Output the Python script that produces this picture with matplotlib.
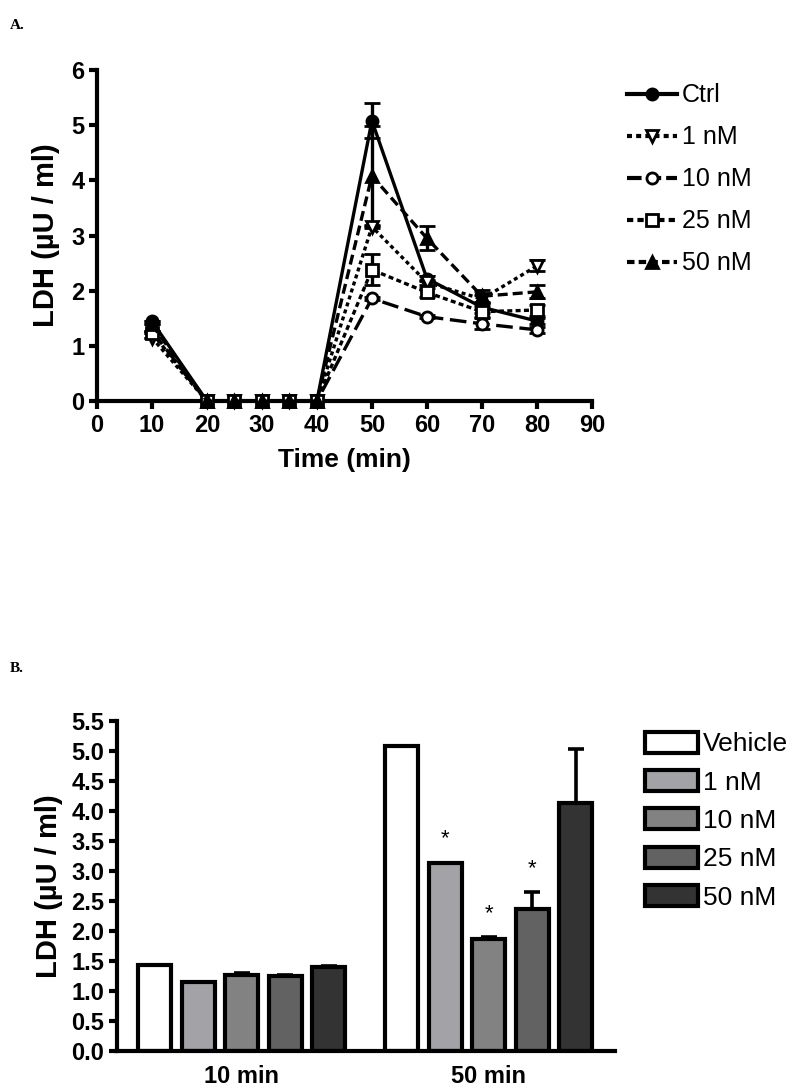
import numpy as np
import matplotlib
matplotlib.use("Agg")
import matplotlib.pyplot as plt
from matplotlib.lines import Line2D

plt.rcParams['font.family'] = ['Liberation Sans', 'DejaVu Sans']

# ---------------- Data ----------------
time_min = [10, 20, 25, 30, 35, 40, 50, 60, 70, 80]
series_names = ["Ctrl", "1 nM", "10 nM", "25 nM", "50 nM"]
ctrl_vals = [1.45, 0, 0, 0, 0, 0, 5.08, 2.22, 1.70, 1.45]
nm1_vals = [1.15, 0, 0, 0, 0, 0, 3.16, 2.15, 1.85, 2.45]
nm10_vals = [1.27, 0, 0, 0, 0, 0, 1.86, 1.53, 1.40, 1.29]
nm25_vals = [1.24, 0, 0, 0, 0, 0, 2.38, 1.97, 1.62, 1.65]
nm50_vals = [1.39, 0, 0, 0, 0, 0, 4.08, 2.95, 1.90, 1.98]
ctrl_err = [0, 0, 0, 0, 0, 0, 0.32, 0.05, 0.10, 0.05]
nm1_err = [0, 0, 0, 0, 0, 0, 0.03, 0.05, 0.08, 0.10]
nm10_err = [0, 0, 0, 0, 0, 0, 0.03, 0.03, 0.10, 0.05]
nm25_err = [0, 0, 0, 0, 0, 0, 0.28, 0.08, 0.10, 0.10]
nm50_err = [0, 0, 0, 0, 0, 0, 0.91, 0.22, 0.12, 0.12]

bar_groups = ["10 min", "50 min"]
bar_names = ["Vehicle", "1 nM", "10 nM", "25 nM", "50 nM"]
bar_10min = [1.43, 1.14, 1.27, 1.24, 1.39]
bar_50min = [5.08, 3.14, 1.86, 2.36, 4.13]
err_10min = [0.0, 0.0, 0.03, 0.02, 0.03]
err_50min = [0.0, 0.0, 0.03, 0.28, 0.90]
signif_50min = [False, True, True, True, False]

# ---------------- Figure ----------------
fig = plt.figure(figsize=(8, 10.91), dpi=100)

SPINE_W = 3.0
TICK_FS = 17

# Panel A
axA = fig.add_axes([0.121, 0.6324, 0.619, 0.3034])
vals = [ctrl_vals, nm1_vals, nm10_vals, nm25_vals, nm50_vals]
errs = [ctrl_err, nm1_err, nm10_err, nm25_err, nm50_err]
styles = [
    dict(marker='o', mfc='black', ls='-'),
    dict(marker='v', mfc='white', ls=(0, (1.2, 1.0))),
    dict(marker='o', mfc='white', ls=(0, (5, 2))),
    dict(marker='s', mfc='white', ls=(0, (1.5, 1.0))),
    dict(marker='^', mfc='black', ls=(0, (3, 1.5))),
]
legend_styles = [
    dict(marker='o', mfc='black', ls='-'),
    dict(marker='v', mfc='white', ls=(0, (1.2, 1.0))),
    dict(marker='o', mfc='white', ls=(0, (3.5, 1.2))),
    dict(marker='s', mfc='white', ls=(0, (1.5, 1.0))),
    dict(marker='^', mfc='black', ls=(0, (1.8, 1.0))),
]
legend_handles = []
for name, v, e, st, lst in zip(series_names, vals, errs, styles, legend_styles):
    axA.errorbar(time_min, v, yerr=e, color='black', lw=2.4, ms=8,
                 mec='black', mew=2.0, capsize=6, capthick=2.4, elinewidth=2.4,
                 clip_on=False, zorder=3, **st)
    legend_handles.append(Line2D([], [], color='black', lw=3.0, ms=8, mec='black',
                                 mew=2.0, **lst))

axA.set_xlim(0, 90)
axA.set_ylim(0, 6)
axA.set_xticks(range(0, 91, 10))
axA.set_yticks(range(0, 7))
for s in ['top', 'right']:
    axA.spines[s].set_visible(False)
for s in ['left', 'bottom']:
    axA.spines[s].set_linewidth(SPINE_W)
axA.tick_params(direction='out', length=6, width=SPINE_W, labelsize=TICK_FS, pad=3)
for lab in axA.get_xticklabels() + axA.get_yticklabels():
    lab.set_fontweight('bold')
axA.set_xlabel("Time (min)", fontsize=19, fontweight='bold', labelpad=8)
axA.set_ylabel("LDH (µU / ml)", fontsize=21, fontweight='bold', labelpad=8)

axA.legend(legend_handles, series_names, loc='upper left', bbox_to_anchor=(1.05, 0.99),
           frameon=False, fontsize=18, numpoints=1, handlelength=2.0,
           handletextpad=0.2, labelspacing=0.72, borderaxespad=0)

fig.text(0.012, 0.983, "A.", family='Liberation Serif', fontweight='bold', fontsize=11,
         ha='left', va='top')
fig.text(0.012, 0.393, "B.", family='Liberation Serif', fontweight='bold', fontsize=11,
         ha='left', va='top')

# Panel B
axB = fig.add_axes([0.146, 0.0369, 0.6225, 0.3022])
bar_colors = ['white', '#a3a3a7', '#828282', '#626262', '#333333']
n = len(bar_names)
step = 0.176
width = 0.134
offsets = (np.arange(n) - (n - 1) / 2) * step
group_x = np.arange(len(bar_groups))
bar_handles = []
for i in range(n):
    heights = [bar_10min[i], bar_50min[i]]
    e = [err_10min[i], err_50min[i]]
    xs = group_x + offsets[i]
    bc = axB.bar(xs, heights, width=width, color=bar_colors[i], edgecolor='black',
                 linewidth=3.0, label=bar_names[i], zorder=2)
    bar_handles.append(bc)
    axB.errorbar(xs, heights, yerr=[np.zeros(2), e], fmt='none', ecolor='black',
                 elinewidth=2.6, capsize=6, capthick=2.6, zorder=1)
    if signif_50min[i]:
        axB.text(group_x[1] + offsets[i], bar_50min[i] + err_50min[i] + 0.22, "*",
                 ha='center', va='bottom', fontsize=16)

axB.set_xlim(-0.506, 1.51)
axB.set_ylim(0, 5.5)
yt = np.arange(0, 5.51, 0.5)
axB.set_yticks(yt)
axB.set_yticklabels([f"{t:.1f}" for t in yt])
axB.set_xticks(group_x)
axB.set_xticklabels(bar_groups)
for s in ['top', 'right']:
    axB.spines[s].set_visible(False)
for s in ['left', 'bottom']:
    axB.spines[s].set_linewidth(SPINE_W)
axB.tick_params(axis='y', direction='out', length=6, width=SPINE_W, labelsize=TICK_FS, pad=3)
axB.tick_params(axis='x', length=0, labelsize=TICK_FS, pad=10)
for lab in axB.get_xticklabels() + axB.get_yticklabels():
    lab.set_fontweight('bold')
axB.set_ylabel("LDH (µU / ml)", fontsize=21, fontweight='bold', labelpad=6)

axB.legend(bar_handles, bar_names, loc='upper left', bbox_to_anchor=(1.04, 1.0),
           frameon=False, fontsize=19, handlelength=2.0, handleheight=0.85,
           handletextpad=0.2, labelspacing=0.52, borderaxespad=0)

fig.savefig("out.png", dpi=100)
